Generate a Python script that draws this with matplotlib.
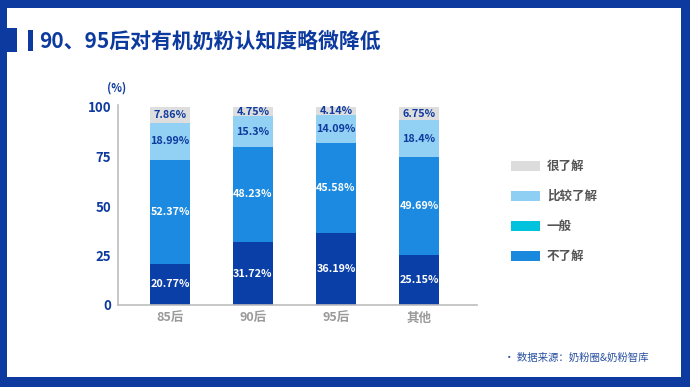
import numpy as np
import matplotlib.pyplot as plt
from matplotlib.patches import Patch, Rectangle

plt.rcParams['font.family'] = ['Noto Sans CJK SC', 'DejaVu Sans']

# data
groups = ['85后', '90后', '95后', '其他']
bu_liaojie = [20.77, 31.72, 36.19, 25.15]    # bottom, dark blue
yiban = [52.37, 48.23, 45.58, 49.69]         # middle, blue
bijiao_liaojie = [18.99, 15.3, 14.09, 18.4]  # light blue
hen_liaojie = [7.86, 4.75, 4.14, 6.75]       # grey, top
seg_labels = [['20.77%', '31.72%', '36.19%', '25.15%'],
              ['52.37%', '48.23%', '45.58%', '49.69%'],
              ['18.99%', '15.3%', '14.09%', '18.4%'],
              ['7.86%', '4.75%', '4.14%', '6.75%']]
legend_names = ['很了解', '比较了解', '一般', '不了解']
legend_colors = ['#dcdcdc', '#8fcff3', '#00c2dc', '#1a88dc']

navy = '#0d3a9e'
bar_colors = ['#0a3fa8', '#1b8ae0', '#92d0f4', '#dedede']
text_colors = ['white', 'white', navy, navy]

fig = plt.figure(figsize=(6.9, 3.87), dpi=100)
fig.patch.set_facecolor('white')

# blue frame around the slide
frame = navy
tf = fig.transFigure
fig.add_artist(Rectangle((0, 1 - 8 / 387), 1, 8 / 387, transform=tf, color=frame, lw=0))
fig.add_artist(Rectangle((0, 0), 1, 10 / 387, transform=tf, color=frame, lw=0))
fig.add_artist(Rectangle((0, 0), 7 / 690, 1, transform=tf, color=frame, lw=0))
fig.add_artist(Rectangle((1 - 9 / 690, 0), 9 / 690, 1, transform=tf, color=frame, lw=0))
fig.add_artist(Rectangle((0, 1 - 52 / 387), 17 / 690, 24 / 387, transform=tf, color=frame, lw=0))
fig.add_artist(Rectangle((28 / 690, 1 - 51 / 387), 5 / 690, 21 / 387, transform=tf, color=frame, lw=0))

fig.text(39 / 690, 1 - 41 / 387, '90、95后对有机奶粉认知度略微降低', fontsize=15,
         fontweight='bold', color=navy, va='center', ha='left')

ax = fig.add_axes([118 / 690, 1 - 305 / 387, 359 / 690, 198 / 387])
x = np.arange(len(groups))
series = [bu_liaojie, yiban, bijiao_liaojie, hen_liaojie]
bottom = np.zeros(len(groups))
for i, vals in enumerate(series):
    vals = np.array(vals)
    ax.bar(x, vals, 0.49, bottom=bottom, color=bar_colors[i], lw=0, zorder=2)
    for j in range(len(groups)):
        ax.text(x[j], bottom[j] + vals[j] / 2, seg_labels[i][j], ha='center', va='center',
                fontsize=7.8, fontweight='bold', color=text_colors[i], zorder=3)
    bottom += vals

ax.set_xlim(-0.627, 3.70)
ax.set_ylim(0, 100)
ax.set_yticks([0, 25, 50, 75, 100])
ax.set_xticks(x)
ax.set_xticklabels(groups)
for lbl in ax.get_yticklabels():
    lbl.set_color(navy)
    lbl.set_fontweight('bold')
    lbl.set_fontsize(9.5)
for lbl in ax.get_xticklabels():
    lbl.set_color('#9a9a9a')
    lbl.set_fontweight('bold')
    lbl.set_fontsize(9)
ax.tick_params(length=0, axis='y', pad=5)
ax.tick_params(length=0, axis='x', pad=5)
for s in ['top', 'right']:
    ax.spines[s].set_visible(False)
for s in ['left', 'bottom']:
    ax.spines[s].set_color('#bdbdbd')
    ax.spines[s].set_linewidth(1.2)
ax.spines['left'].set_bounds(0, 101)
ax.set_facecolor('none')

fig.text(117 / 690, 1 - 88 / 387, '(%)', ha='center', va='center', fontsize=8,
         fontweight='bold', color=navy)

handles = [Patch(facecolor=c, edgecolor='none') for c in legend_colors]
fig.legend(handles, legend_names, loc='upper left', bbox_to_anchor=(500 / 690, 1 - 149 / 387),
           frameon=False, handlelength=2.3, handleheight=0.85,
           handletextpad=0.55, labelspacing=1.35, labelcolor='#555555',
           prop={'weight': 'bold', 'size': 9})

fig.text(504 / 690, 1 - 358 / 387, '· 数据来源：奶粉圈&奶粉智库', fontsize=7.5,
         color='#2850a0', va='center', ha='left')

fig.savefig('out.png', dpi=100)
